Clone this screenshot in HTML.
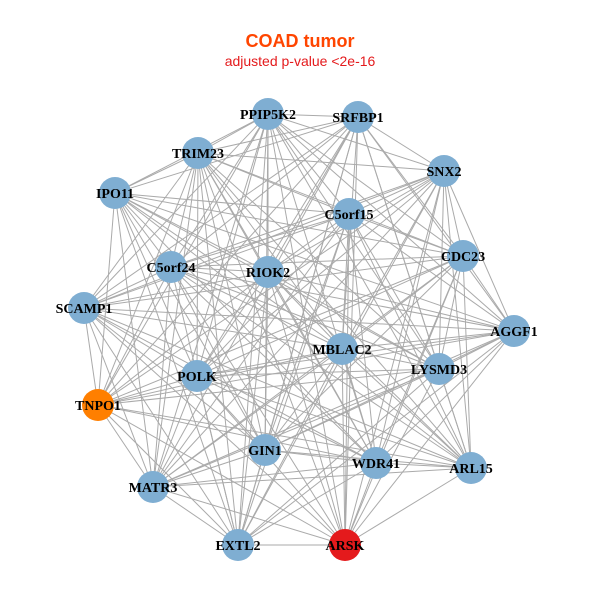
<!DOCTYPE html>
<html><head><meta charset="utf-8"><style>
html,body{margin:0;padding:0;background:#fff;}
svg{display:block}
</style></head><body>
<svg id="g" width="600" height="600" xmlns="http://www.w3.org/2000/svg">
<rect width="600" height="600" fill="#fff"/>
<text x="300" y="47" text-anchor="middle" font-family="Liberation Sans, sans-serif" font-weight="bold" font-size="18" fill="#FF4500">COAD tumor</text>
<text x="300" y="66" text-anchor="middle" font-family="Liberation Sans, sans-serif" font-size="14" fill="#E41A1C">adjusted p-value &lt;2e-16</text>
<g id="edges" stroke="#aaaaaa" stroke-width="1"></g>
<g id="nodes"></g>
</svg>
<script>
var N=[["PPIP5K2",268,114,"#7FAED2"],["SRFBP1",358,117,"#7FAED2"],["TRIM23",198,153,"#7FAED2"],["SNX2",444,171,"#7FAED2"],["IPO11",115,193,"#7FAED2"],["C5orf15",349,214,"#7FAED2"],["CDC23",463,256,"#7FAED2"],["C5orf24",171,267,"#7FAED2"],["RIOK2",268,272,"#7FAED2"],["SCAMP1",84,308,"#7FAED2"],["AGGF1",514,331,"#7FAED2"],["MBLAC2",342,349,"#7FAED2"],["LYSMD3",439,369,"#7FAED2"],["POLK",197,376,"#7FAED2"],["TNPO1",98,405,"#FF7F00"],["GIN1",265,450,"#7FAED2"],["WDR41",376,463,"#7FAED2"],["ARL15",471,468,"#7FAED2"],["MATR3",153,487,"#7FAED2"],["EXTL2",238,545,"#7FAED2"],["ARSK",345,545,"#E41A1C"]];
var ns="http://www.w3.org/2000/svg",E=document.getElementById("edges"),G=document.getElementById("nodes");
for(var i=0;i<N.length;i++)for(var j=i+1;j<N.length;j++){
 if((i*7+j*3)%11==0)continue;
 var l=document.createElementNS(ns,"line");
 l.setAttribute("x1",N[i][1]);l.setAttribute("y1",N[i][2]);l.setAttribute("x2",N[j][1]);l.setAttribute("y2",N[j][2]);E.appendChild(l);}
N.forEach(function(n){var c=document.createElementNS(ns,"circle");c.setAttribute("cx",n[1]);c.setAttribute("cy",n[2]);c.setAttribute("r",16);c.setAttribute("fill",n[3]);G.appendChild(c);});
N.forEach(function(n){var t=document.createElementNS(ns,"text");t.setAttribute("x",n[1]);t.setAttribute("y",n[2]+5);t.setAttribute("text-anchor","middle");t.setAttribute("font-family","Liberation Serif, serif");t.setAttribute("font-weight","bold");t.setAttribute("font-size","14");t.setAttribute("fill","#000");t.textContent=n[0];G.appendChild(t);});
</script>
</body></html>
